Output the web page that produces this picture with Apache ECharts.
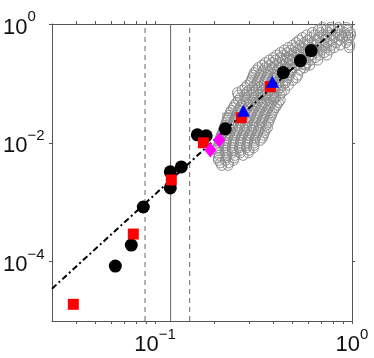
<!DOCTYPE html>
<html>
<head>
<meta charset="utf-8">
<script src="https://cdn.jsdelivr.net/npm/echarts@6/dist/echarts.min.js"></script>
<style>html,body{margin:0;padding:0;background:#fff}#c{width:374px;height:358px}</style>
</head>
<body>
<div id="c"></div>
<script>
// ---- data ----
const xTicks = [0.04,0.05,0.06,0.07,0.08,0.09,0.1,0.2,0.3,0.4,0.5,0.6,0.7,0.8,0.9,1];
const xLabelValues = [0.1, 1];
const yTicks = [1e-4, 1e-2, 1];
const yLabelValues = [1e-4, 1e-2, 1];

const blackCircles = [[0.0629,8.4e-5],[0.0758,1.9e-4],[0.0872,8.3e-4],[0.1196,1.74e-3],[0.1196,3.24e-3],[0.136,3.93e-3],
  [0.164,0.0136],[0.182,0.0131],[0.2274,0.0172],[0.448,0.152],[0.547,0.242],[0.621,0.357]];
const redSquares = [[0.0385,1.91e-5],[0.0776,2.91e-4],[0.121,2.37e-3],[0.176,0.0100],[0.274,0.0264],[0.385,0.0881]];
const blueTriangles = [[0.281,0.0347],[0.394,0.107]];
const magentaDiamonds = [[0.191,0.0076],[0.212,0.0112]];
const fitLine = [[0.03,3.5e-5],[0.88,1]];
const vSolid = 0.12;
const vDashed = [0.089, 0.15];

// gray open circles: rows of [y, [x...]]
const cloudRows = [
  [0.873,[0.707,0.776,0.852,0.936]],
  [0.792,[0.675,0.741,0.795,0.870,0.950]],
  [0.719,[0.629,0.691,0.758,0.832,0.914,0.980]],
  [0.652,[0.588,0.645,0.710,0.780,0.855,0.930,0.985]],
  [0.592,[0.560,0.614,0.675,0.741,0.813,0.893,0.969]],
  [0.537,[0.540,0.595,0.655,0.720,0.790,0.865,0.950]],
  [0.487,[0.522,0.573,0.629,0.691,0.758,0.832,0.936]],
  [0.442,[0.500,0.545,0.600,0.655,0.720,0.790,0.870,0.975]],
  [0.401,[0.475,0.516,0.560,0.614,0.675,0.741,0.813,0.969]],
  [0.364,[0.453,0.490,0.535,0.585,0.640,0.700,0.770]],
  [0.330,[0.433,0.469,0.509,0.553,0.600,0.659,0.723]],
  [0.300,[0.415,0.450,0.490,0.530,0.575,0.625,0.685,0.745]],
  [0.272,[0.399,0.433,0.469,0.509,0.553,0.600,0.651]],
  [0.247,[0.380,0.410,0.445,0.485,0.525,0.570,0.620,0.670]],
  [0.224,[0.363,0.394,0.428,0.464,0.504,0.547,0.593]],
  [0.203,[0.350,0.380,0.410,0.445,0.485,0.525,0.580,0.610]],
  [0.184,[0.335,0.363,0.394,0.428,0.464,0.504,0.573]],
  [0.167,[0.327,0.355,0.385,0.418,0.455,0.495,0.545]],
  [0.152,[0.319,0.346,0.376,0.408,0.443,0.486]],
  [0.138,[0.316,0.342,0.372,0.404,0.440,0.480,0.530]],
  [0.125,[0.312,0.338,0.367,0.399,0.433,0.475,0.522]],
  [0.113,[0.308,0.334,0.363,0.394,0.428,0.465,0.500]],
  [0.103,[0.305,0.331,0.359,0.389,0.423,0.459]],
  [0.0934,[0.294,0.320,0.348,0.378,0.410,0.445,0.475]],
  [0.0847,[0.287,0.312,0.338,0.367,0.399,0.433]],
  [0.0769,[0.277,0.300,0.327,0.355,0.385,0.420,0.455]],
  [0.0698,[0.262,0.291,0.316,0.342,0.372,0.403,0.438]],
  [0.0633,[0.265,0.285,0.310,0.335,0.365,0.395,0.430]],
  [0.0574,[0.271,0.294,0.319,0.346,0.376,0.408]],
  [0.0521,[0.265,0.290,0.315,0.340,0.370,0.400,0.432]],
  [0.0473,[0.259,0.281,0.305,0.331,0.359,0.389,0.423]],
  [0.0429,[0.253,0.275,0.300,0.325,0.352,0.382,0.415]],
  [0.0390,[0.250,0.271,0.294,0.319,0.346,0.376,0.408]],
  [0.0353,[0.244,0.265,0.288,0.312,0.340,0.370,0.400]],
  [0.0321,[0.241,0.262,0.284,0.308,0.335,0.363,0.394]],
  [0.0291,[0.238,0.259,0.280,0.305,0.330,0.360,0.390]],
  [0.0264,[0.236,0.256,0.277,0.301,0.327,0.355,0.385]],
  [0.0240,[0.232,0.253,0.274,0.297,0.323,0.350,0.380]],
  [0.0217,[0.230,0.250,0.271,0.294,0.319,0.346,0.376]],
  [0.0197,[0.227,0.245,0.265,0.288,0.312,0.338,0.366]],
  [0.0179,[0.227,0.247,0.268,0.291,0.316,0.342,0.372]],
  [0.0162,[0.222,0.242,0.262,0.285,0.310,0.336,0.363]],
  [0.0147,[0.220,0.238,0.259,0.281,0.305,0.331,0.359]],
  [0.0134,[0.217,0.236,0.255,0.277,0.300,0.326,0.355]],
  [0.0121,[0.215,0.233,0.253,0.274,0.298,0.323,0.351]],
  [0.0110,[0.212,0.231,0.250,0.272,0.295,0.320,0.342]],
  [0.00999,[0.212,0.230,0.250,0.271,0.294,0.319]],
  [0.00907,[0.210,0.228,0.248,0.270,0.292,0.318]],
  [0.00823,[0.210,0.227,0.247,0.268,0.291,0.316]],
  [0.00747,[0.210,0.229,0.250,0.272,0.300]],
  [0.00678,[0.210,0.227,0.247,0.271,0.298]],
  [0.00615,[0.212,0.232,0.255,0.280]],
  [0.00558,[0.210,0.230,0.253]],
  [0.00506,[0.210,0.228,0.250]],
  [0.00459,[0.215,0.236]],
  [0.00417,[0.218,0.235]]
];
const graySquares = [[0.580,0.207],[0.408,0.125],[0.233,0.0264],[0.403,0.0597],[0.351,0.065],[0.486,0.25]];

// ---- build ----
const cloud = [];
cloudRows.forEach(r => r[1].forEach(x => cloud.push([x, r[0]])));

const FONT = 'Liberation Sans, Arial, Helvetica, sans-serif';
function fmt(v){
  const e = Math.round(Math.log10(v));
  const s = e < 0 ? '\u2212' + (-e) : String(e);
  return '{b|10}{s|' + s + '}';
}
const rich = {
  b:{fontSize:22, fontFamily:FONT, color:'#111', lineHeight:29, verticalAlign:'bottom'},
  s:{fontSize:15, fontFamily:FONT, color:'#111', lineHeight:15, verticalAlign:'top'}
};
const axisLineStyle = {lineStyle:{color:'#555', width:1}};
function xAx(pos, labels){
  return {type:'log', logBase:10, min:0.03, max:1, position:pos,
    axisLine:{show:true, onZero:false, ...axisLineStyle},
    axisTick:{show:true, inside:false, length:3, customValues:xTicks, lineStyle:{color:'#555'}},
    axisLabel:{show:labels, customValues:xLabelValues, formatter:fmt, rich:rich, margin:6},
    splitLine:{show:false}, minorTick:{show:false}};
}
function yAx(pos, labels){
  return {type:'log', logBase:10, min:1e-5, max:1, position:pos,
    axisLine:{show:true, onZero:false, ...axisLineStyle},
    axisTick:{show:true, inside:false, length:3, customValues:yTicks, lineStyle:{color:'#555'}},
    axisLabel:{show:labels, customValues:yLabelValues, formatter:fmt, rich:rich, margin:49, align:'left'},
    splitLine:{show:false}, minorTick:{show:false}};
}

const vline = (x, type, color) => ({type:'line', data:[[x,1e-5],[x,1]], symbol:'none', silent:true,
  lineStyle:{color:color, width:1, type:type}, z:1});

const option = {
  animation:false,
  grid:{left:51, right:22, top:24, bottom:37, containLabel:false},
  xAxis:[xAx('bottom', true), xAx('top', false)],
  yAxis:[yAx('left', true), yAx('right', false)],
  series:[
    vline(vDashed[0], [5,4], '#666'),
    vline(vDashed[1], [5,4], '#666'),
    vline(vSolid, 'solid', '#666'),
    {type:'scatter', data:cloud, symbol:'circle', symbolSize:10, z:2,
      itemStyle:{color:'rgba(0,0,0,0)', borderColor:'#8c8c8c', borderWidth:1, opacity:1}},
    {type:'scatter', data:graySquares, symbol:'rect', symbolSize:9, z:2,
      itemStyle:{color:'rgba(0,0,0,0)', borderColor:'#8c8c8c', borderWidth:1, opacity:1}},
    {type:'line', data:fitLine, symbol:'none', z:3,
      lineStyle:{color:'#000', width:2, type:[6,3,2,3]}},
    {type:'scatter', data:blackCircles, symbol:'circle', symbolSize:13, z:4, itemStyle:{color:'#000', opacity:1}},
    {type:'scatter', data:redSquares, symbol:'rect', symbolSize:11, z:5, itemStyle:{color:'#ff0000', opacity:1}},
    {type:'scatter', data:blueTriangles, symbol:'triangle', symbolSize:[13,12], z:6, itemStyle:{color:'#0000ff', opacity:1}},
    {type:'scatter', data:magentaDiamonds, symbol:'diamond', symbolSize:[12,15], z:6, itemStyle:{color:'#ff00ff', opacity:1}}
  ]
};
const chart = echarts.init(document.getElementById('c'), null, {renderer:'canvas'});
chart.setOption(option);
</script>
</body>
</html>
